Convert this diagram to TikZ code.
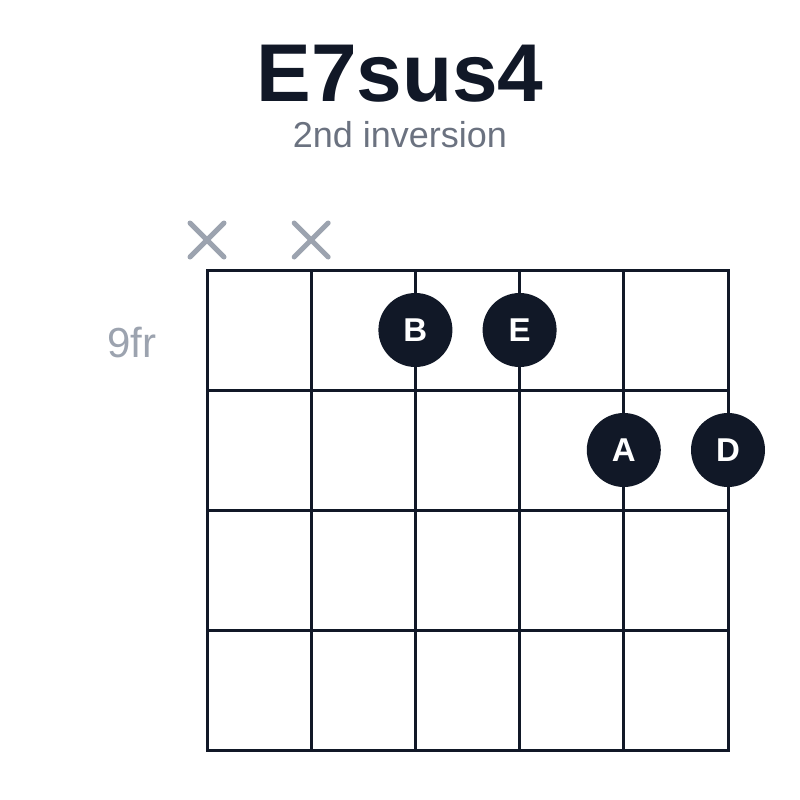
\documentclass[tikz,border=0pt]{standalone}
\usepackage{fontspec}
\setmainfont{Liberation Sans}
\definecolor{ink}{HTML}{111827}
\definecolor{muted}{HTML}{9CA3AF}
\definecolor{sub}{HTML}{6B7280}
\tikzset{
  grid/.style={draw=ink, line width=3pt, line cap=rect},
  dot/.style={circle, fill=ink, minimum size=74pt, inner sep=0pt, text=white, font=\bfseries\fontsize{33}{33}\selectfont},
  mute/.style={draw=muted, line width=5pt, line cap=round},
}
\begin{document}
\begin{tikzpicture}[x=1pt,y=-1pt]
\useasboundingbox (0,0) rectangle (800,800);
\node[font=\bfseries\fontsize{82}{82}\selectfont, text=ink] (title) at (400,74) {E7sus4};
\node[font=\fontsize{36}{36}\selectfont, text=sub] (subtitle) at (400,135) {2nd inversion};
\node[font=\fontsize{42}{42}\selectfont, text=muted] (fr) at (132,343) {9fr};
% strings
\foreach \i/\x in {0/207,1/311.2,2/415.4,3/519.6,4/623.8,5/728} {
  \coordinate (s\i t) at (\x,270);
  \coordinate (s\i b) at (\x,750);
  \draw[grid] (s\i t) -- (s\i b);
}
% frets
\foreach \j/\y in {0/270,1/390,2/510,3/630,4/750} {
  \coordinate (f\j l) at (207,\y);
  \coordinate (f\j r) at (728,\y);
  \draw[grid] (f\j l) -- (f\j r);
}
% muted strings
\foreach \i/\x in {0/207,1/311.2} {
  \coordinate (m\i a) at (\x-17,223);
  \coordinate (m\i b) at (\x+17,257);
  \coordinate (m\i c) at (\x-17,257);
  \coordinate (m\i d) at (\x+17,223);
  \draw[mute] (m\i a) -- (m\i b);
  \draw[mute] (m\i c) -- (m\i d);
}
\node[dot] (B) at (415.4,330) {B};
\node[dot] (E) at (519.6,330) {E};
\node[dot] (A) at (623.8,450) {A};
\node[dot] (D) at (728,450) {D};
\end{tikzpicture}
\end{document}
